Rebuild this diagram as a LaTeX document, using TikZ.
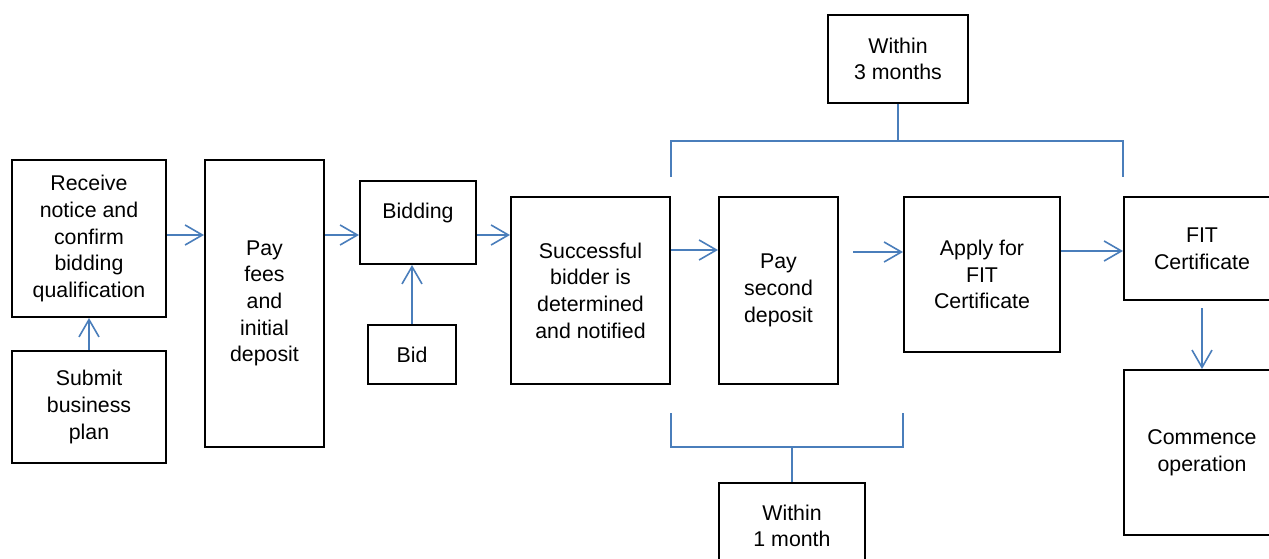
\documentclass[tikz,border=0pt]{standalone}
\usepackage{fontspec}
\setmainfont{Liberation Sans}
\usetikzlibrary{arrows.meta}
\definecolor{lineblue}{HTML}{4A7EBB}
\tikzset{
  box/.style={draw=black, line width=1.5pt, rectangle, inner sep=0pt, align=center,
    font=\fontsize{16}{20}\selectfont},
  txt/.style={inner sep=0pt, align=center, font=\fontsize{16}{20}\selectfont},
  arr/.style={draw=lineblue, line width=1.2pt, -{Straight Barb[length=13pt,width=15pt,line width=1.2pt]}},
  brk/.style={draw=lineblue, line width=1.5pt}
}
\begin{document}
\begin{tikzpicture}[x=0.75pt,y=-0.75pt]
\path[use as bounding box, clip] (0,0) rectangle (1269,559);
\fill[white] (0,0) rectangle (1269,559);
% boxes
\node[box, minimum width=154*0.75pt, minimum height=157*0.75pt] (receive) at (89,238.5)
  {Receive\\notice and\\confirm\\bidding\\qualification};
\node[box, minimum width=154*0.75pt, minimum height=112*0.75pt] (submit) at (89,407)
  {Submit\\business\\plan};
\node[box, minimum width=119*0.75pt, minimum height=287*0.75pt] (payfees) at (264.5,303.5)
  {Pay\\fees\\and\\initial\\deposit};
\node[box, minimum width=116*0.75pt, minimum height=83*0.75pt] (bidding) at (418,222.5) {};
\node[txt] (biddingtxt) at (418,213) {Bidding};
\node[box, minimum width=88*0.75pt, minimum height=59*0.75pt] (bid) at (412,354.5) {Bid};
\node[box, minimum width=159*0.75pt, minimum height=187*0.75pt] (successful) at (590.5,290.5)
  {Successful\\bidder is\\determined\\and notified};
\node[box, minimum width=119*0.75pt, minimum height=187*0.75pt] (second) at (778.5,290.5)
  {Pay\\second\\deposit};
\node[box, minimum width=156*0.75pt, minimum height=155*0.75pt] (apply) at (982,274.5)
  {Apply for\\FIT\\Certificate};
\node[box, minimum width=156*0.75pt, minimum height=103*0.75pt] (fit) at (1202,248.5)
  {FIT\\Certificate};
\node[box, minimum width=156*0.75pt, minimum height=165*0.75pt] (commence) at (1202,452.5)
  {Commence\\operation};
\node[box, minimum width=140*0.75pt, minimum height=88*0.75pt] (within3) at (898,59)
  {Within\\3 months};
\node[box, minimum width=146*0.75pt, minimum height=86*0.75pt] (within1) at (792,526)
  {Within\\1 month};
% arrows
\draw[arr] (receive.east |- 0,235) -- (payfees.west |- 0,235);
\draw[arr] (payfees.east |- 0,235) -- (bidding.west |- 0,235);
\draw[arr] (bidding.east |- 0,235) -- (successful.west |- 0,235);
\draw[arr] (successful.east |- 0,250) -- (second.west |- 0,250);
\draw[arr] ([xshift=10.5pt]second.east |- 0,252) -- (apply.west |- 0,252);
\draw[arr] (apply.east |- 0,251) -- (fit.west |- 0,251);
\draw[arr] ([yshift=-5.25pt]fit.south) -- (commence.north);
\draw[arr] (submit.north) -- (receive.south);
\draw[arr] (bid.north) -- (bidding.south -| bid.north);
% brackets
\draw[brk] (successful.east |- 0,177) -- (successful.east |- 0,141) -- (fit.west |- 0,141) -- (fit.west |- 0,177);
\draw[brk] (within3.south) -- (within3.south |- 0,141);
\draw[brk] (successful.east |- 0,413) -- (successful.east |- 0,447) -- (apply.west |- 0,447) -- (apply.west |- 0,413);
\draw[brk] (within1.north) -- (within1.north |- 0,447);
\end{tikzpicture}
\end{document}
